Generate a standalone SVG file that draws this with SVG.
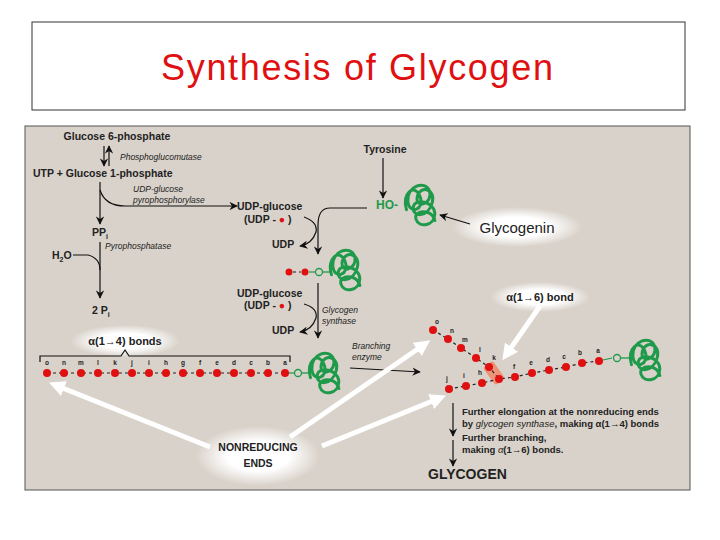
<svg xmlns="http://www.w3.org/2000/svg" width="720" height="540" viewBox="0 0 720 540">
<style>
.b{font-family:"Liberation Sans",Arial,sans-serif;font-weight:bold;font-size:10.5px;fill:#222}
.i{font-family:"Liberation Sans",Arial,sans-serif;font-style:italic;font-size:8.5px;fill:#222}
.l{font-family:"Liberation Sans",Arial,sans-serif;font-size:6.5px;font-weight:bold;fill:#222}
.ln{fill:none;stroke:#111;stroke-width:1.2}
.wa{fill:none;stroke:#fff;stroke-width:5}
.g{fill:none;stroke:#1e9a4a;stroke-width:2.2;stroke-linecap:round}
.dash{stroke:#222;stroke-width:1.2;stroke-dasharray:3 3}
</style>
<defs>
<marker id="ah" viewBox="0 0 10 10" refX="9" refY="5" markerWidth="7" markerHeight="7" orient="auto"><path d="M0,0 L10,5 L0,10 L3,5z" fill="#111"/></marker>
<marker id="wh" viewBox="0 0 10 10" refX="6" refY="5" markerWidth="3.2" markerHeight="3.2" orient="auto"><path d="M0,0 L10,5 L0,10z" fill="#fff"/></marker>
<radialGradient id="glow"><stop offset="0.5" stop-color="#fff"/><stop offset="1" stop-color="#fff" stop-opacity="0"/></radialGradient>
<g id="prot" class="g"><g transform="scale(1.35)"><path d="M-10,2 C-14,-10 -4,-18 0,-8 C4,2 -8,6 -9,-4 C-10,-16 4,-20 7,-12 C10,-2 -4,2 -2,-8 C0,-16 12,-14 9,-3 C6,8 -6,8 -5,0 C-4,-7 11,-4 11,5 C11,14 -1,16 -3,9 C-5,2 9,1 11,10"/></g></g>
</defs>
<rect width="720" height="540" fill="#fff"/>
<rect x="32" y="22" width="653" height="88" fill="#fff" stroke="#333" stroke-width="1"/>
<text x="357" y="80" text-anchor="middle" font-family="Liberation Sans, Arial, sans-serif" font-size="36" fill="#e01010" textLength="392">Synthesis of Glycogen</text>
<rect x="25" y="126" width="665" height="364" fill="#d9d2ca" stroke="#555"/>
<ellipse cx="125" cy="341" rx="55" ry="16" fill="url(#glow)"/>
<ellipse cx="517" cy="227" rx="65" ry="20" fill="url(#glow)"/>
<ellipse cx="540" cy="297" rx="50" ry="15" fill="url(#glow)"/>
<ellipse cx="258" cy="456" rx="62" ry="30" fill="url(#glow)"/>
<g id="left-pathway">
<text class="b" x="117" y="140" text-anchor="middle">Glucose 6-phosphate</text>
<text class="i" x="120" y="160">Phosphoglucomutase</text>
<text class="b" x="33" y="177">UTP + Glucose 1-phosphate</text>
<text class="i" x="133" y="192">UDP-glucose</text>
<text class="i" x="133" y="203">pyrophosphorylase</text>
<text class="b" x="92" y="236">PP<tspan font-size="7" dy="3">i</tspan></text>
<text class="i" x="105" y="249">Pyrophosphatase</text>
<text class="b" x="52" y="259">H<tspan font-size="7" dy="3">2</tspan><tspan dy="-3">O</tspan></text>
<text class="b" x="92" y="314">2 P<tspan font-size="7" dy="3">i</tspan></text>
</g>
<g id="udp-glucose-1">
<text class="b" x="237" y="210">UDP-glucose</text>
<text class="b" x="244" y="223">(UDP - <tspan fill="#e01010">●</tspan> )</text>
<text class="b" x="272" y="248">UDP</text>
</g>
<g id="primer">
<circle cx="289" cy="272" r="3.5" fill="#e01010"/><circle cx="305" cy="272" r="3.5" fill="#e01010"/>
<line x1="293" y1="272" x2="301" y2="272" class="dash"/>
<line x1="309" y1="272" x2="315" y2="272" stroke="#1e9a4a" stroke-width="1.2"/>
<circle cx="319" cy="272" r="3.5" fill="none" stroke="#1e9a4a" stroke-width="1.3"/>
<line x1="323" y1="272" x2="331" y2="272" stroke="#1e9a4a" stroke-width="1.3"/>
<use href="#prot" x="345" y="272"/>
</g>
<g id="udp-glucose-2">
<text class="b" x="237" y="297">UDP-glucose</text>
<text class="b" x="244" y="309">(UDP - <tspan fill="#e01010">●</tspan> )</text>
<text class="b" x="272" y="334">UDP</text>
<text class="i" x="322" y="313">Glycogen</text>
<text class="i" x="322" y="324">synthase</text>
</g>
<g id="glycogenin">
<text class="b" x="385" y="153" text-anchor="middle">Tyrosine</text>
<text x="376" y="209" font-family="Liberation Sans, Arial, sans-serif" font-weight="bold" font-size="12" fill="#1e9a4a">HO-</text>
<use href="#prot" x="420" y="207"/>
<text x="517" y="233" text-anchor="middle" font-family="Liberation Sans, Arial, sans-serif" font-size="15" fill="#222">Glycogenin</text>
</g>
<g id="linear-chain">
<text x="125" y="345" text-anchor="middle" font-family="Liberation Sans, Arial, sans-serif" font-size="11" font-weight="bold" fill="#222">α(1→4) bonds</text>
<path d="M40,362 V356 H121 L125,350 L129,356 H290 V362" class="ln" stroke-width="0.8"/>
<line x1="47" y1="373" x2="289" y2="373" class="dash"/>
<g fill="#e01010">
<circle cx="47" cy="373" r="4"/><circle cx="64" cy="373" r="4"/><circle cx="81" cy="373" r="4"/><circle cx="98" cy="373" r="4"/><circle cx="115" cy="373" r="4"/><circle cx="132" cy="373" r="4"/><circle cx="149" cy="373" r="4"/><circle cx="166" cy="373" r="4"/><circle cx="183" cy="373" r="4"/><circle cx="200" cy="373" r="4"/><circle cx="217" cy="373" r="4"/><circle cx="234" cy="373" r="4"/><circle cx="251" cy="373" r="4"/><circle cx="268" cy="373" r="4"/><circle cx="285" cy="373" r="4"/>
</g>
<g class="l" text-anchor="middle" fill="#222">
<text x="47" y="365">o</text><text x="64" y="365">n</text><text x="81" y="365">m</text><text x="98" y="365">l</text><text x="115" y="365">k</text><text x="132" y="365">j</text><text x="149" y="365">i</text><text x="166" y="365">h</text><text x="183" y="365">g</text><text x="200" y="365">f</text><text x="217" y="365">e</text><text x="234" y="365">d</text><text x="251" y="365">c</text><text x="268" y="365">b</text><text x="285" y="365">a</text>
</g>
<line x1="289" y1="373" x2="294" y2="373" stroke="#1e9a4a" stroke-width="1.2"/>
<circle cx="298" cy="373" r="3.5" fill="none" stroke="#1e9a4a" stroke-width="1.3"/>
<line x1="302" y1="373" x2="310" y2="373" stroke="#1e9a4a" stroke-width="1.3"/>
<use href="#prot" x="324" y="375"/>
<text class="i" x="352" y="349">Branching</text>
<text class="i" x="352" y="360">enzyme</text>
</g>
<g id="branched-chain">
<rect x="488" y="362" width="12" height="22" rx="3" fill="#f08a6a" opacity="0.85" transform="rotate(-35 494 373)"/>
<polyline points="433,330 448,339 461,348 476,358 489,367 499,379" class="dash" fill="none"/>
<polyline points="449,389 466,386 482,383 499,379 515,377 532,373 549,370 566,367 582,363 599,361" class="dash" fill="none"/>
<g fill="#e01010">
<circle cx="433" cy="330" r="4"/><circle cx="448" cy="339" r="4"/><circle cx="461" cy="348" r="4"/><circle cx="476" cy="358" r="4"/><circle cx="489" cy="367" r="4"/>
<circle cx="449" cy="389" r="4"/><circle cx="466" cy="386" r="4"/><circle cx="482" cy="383" r="4"/><circle cx="499" cy="379" r="4"/><circle cx="515" cy="377" r="4"/><circle cx="532" cy="373" r="4"/><circle cx="549" cy="370" r="4"/><circle cx="566" cy="367" r="4"/><circle cx="582" cy="363" r="4"/><circle cx="599" cy="361" r="4"/>
</g>
<g class="l" text-anchor="middle" fill="#222">
<text x="437" y="324">o</text><text x="452" y="333">n</text><text x="465" y="342">m</text><text x="480" y="352">l</text><text x="494" y="360">k</text>
<text x="447" y="381">j</text><text x="464" y="378">i</text><text x="480" y="375">h</text><text x="514" y="369">f</text><text x="531" y="365">e</text><text x="548" y="362">d</text><text x="564" y="359">c</text><text x="580" y="355">b</text><text x="598" y="353">a</text>
</g>
<line x1="603" y1="360" x2="612" y2="358" stroke="#1e9a4a" stroke-width="1.2"/>
<circle cx="617" cy="358" r="3.5" fill="none" stroke="#1e9a4a" stroke-width="1.3"/>
<line x1="621" y1="358" x2="630" y2="358" stroke="#1e9a4a" stroke-width="1.3"/>
<use href="#prot" x="645" y="362"/>
<text x="540" y="301" text-anchor="middle" font-family="Liberation Sans, Arial, sans-serif" font-size="11" font-weight="bold" fill="#222">α(1→6) bond</text>
<text class="b" x="462" y="415" font-size="9.5" style="font-size:9.5px">Further elongation at the nonreducing ends</text>
<text class="b" x="462" y="427" style="font-size:9.5px">by <tspan font-style="italic" font-weight="normal">glycogen synthase</tspan>, making α(1→4) bonds</text>
<text class="b" x="462" y="441" style="font-size:9.5px">Further branching,</text>
<text class="b" x="462" y="453" style="font-size:9.5px">making <tspan font-style="italic" font-weight="normal">α</tspan>(1→6) bonds.</text>
<text x="428" y="479" font-family="Liberation Sans, Arial, sans-serif" font-size="14" font-weight="bold" fill="#222">GLYCOGEN</text>
</g>
<g id="nonreducing">
<text x="258" y="451" text-anchor="middle" font-family="Liberation Sans, Arial, sans-serif" font-size="10.5" font-weight="bold" fill="#222">NONREDUCING</text>
<text x="258" y="467" text-anchor="middle" font-family="Liberation Sans, Arial, sans-serif" font-size="10.5" font-weight="bold" fill="#222">ENDS</text>
</g>
<g id="connectors">
<line x1="104" y1="146" x2="104" y2="166" class="ln" marker-end="url(#ah)"/>
<line x1="109" y1="166" x2="109" y2="146" class="ln" marker-end="url(#ah)"/>
<path d="M100,182 V224" class="ln" marker-end="url(#ah)"/>
<path d="M100,190 Q105,206 125,206 H237" class="ln" marker-end="url(#ah)"/>
<path d="M100,242 V298" class="ln" marker-end="url(#ah)"/>
<path d="M73,255 H88 Q100,258 100,270" class="ln"/>
<path d="M367,208 H330 Q318,208 318,225 V254" class="ln" marker-end="url(#ah)"/>
<path d="M304,217 Q318,222 316,232 Q312,244 300,246" class="ln" marker-end="url(#ah)"/>
<path d="M318,283 V338" class="ln" marker-end="url(#ah)"/>
<path d="M304,304 Q318,308 316,318 Q312,330 300,332" class="ln" marker-end="url(#ah)"/>
<line x1="383" y1="158" x2="383" y2="198" class="ln" marker-end="url(#ah)"/>
<line x1="470" y1="224" x2="440" y2="215" class="ln" marker-end="url(#ah)"/>
<line x1="350" y1="368" x2="420" y2="372" class="ln" marker-end="url(#ah)"/>
<line x1="453" y1="403" x2="453" y2="436" class="ln" marker-end="url(#ah)"/>
<line x1="453" y1="440" x2="453" y2="466" class="ln" marker-end="url(#ah)"/>
<line x1="540" y1="306" x2="506" y2="355" class="wa" marker-end="url(#wh)"/>
<line x1="210" y1="447" x2="55" y2="385" class="wa" marker-end="url(#wh)"/>
<line x1="290" y1="437" x2="425" y2="344" class="wa" marker-end="url(#wh)"/>
<line x1="322" y1="446" x2="440" y2="398" class="wa" marker-end="url(#wh)"/>
</g>
</svg>
